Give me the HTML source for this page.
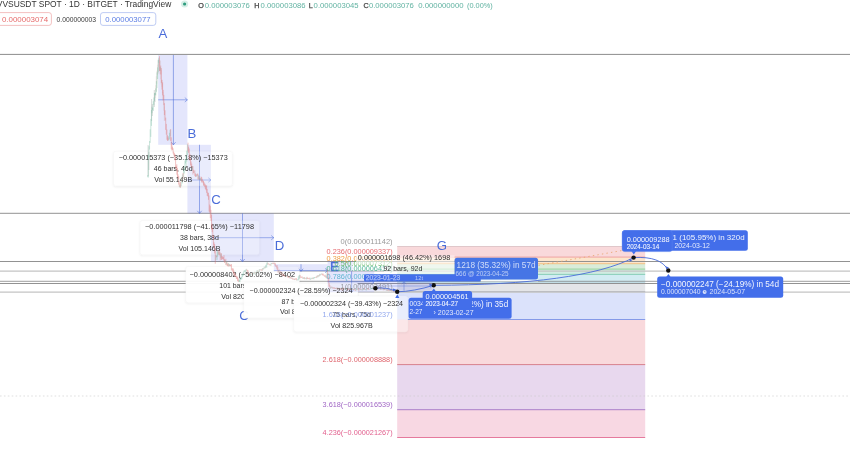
<!DOCTYPE html>
<html lang="en"><head><meta charset="utf-8"><title>VVSUSDT SPOT · 1D · BITGET · TradingView</title>
<style>
html,body{margin:0;padding:0;background:#fff;overflow:hidden}
svg{display:block;filter:blur(0.45px);font-family:"Liberation Sans",sans-serif}
</style></head><body>
<svg width="850" height="474" viewBox="0 0 850 474">
<defs><filter id="sh" x="-10%" y="-20%" width="120%" height="150%"><feDropShadow dx="0" dy="0.8" stdDeviation="1.2" flood-color="#000" flood-opacity="0.09"/></filter></defs>
<rect width="850" height="474" fill="#fff"/>
<g id="fib">
<rect x="397.2" y="246.5" width="248.0" height="10.6" fill="#f9d9db"/>
<rect x="397.2" y="257.1" width="248.0" height="6.6" fill="#fce5cc"/>
<rect x="397.2" y="263.7" width="248.0" height="5.4" fill="#d9ecd9"/>
<rect x="397.2" y="269.1" width="248.0" height="5.3" fill="#d0ece1"/>
<rect x="397.2" y="274.4" width="248.0" height="7.5" fill="#d2ecf2"/>
<rect x="397.2" y="281.9" width="248.0" height="9.7" fill="#e4e5e8"/>
<rect x="397.2" y="291.6" width="248.0" height="27.9" fill="#dbe2fb"/>
<rect x="397.2" y="319.5" width="248.0" height="45.1" fill="#f9d9dc"/>
<rect x="397.2" y="364.6" width="248.0" height="45.1" fill="#e8d8ee"/>
<rect x="397.2" y="409.7" width="248.0" height="27.8" fill="#f8d8e3"/>
<line x1="397.2" y1="246.5" x2="645.2" y2="246.5" stroke="#dcc3c6" stroke-width="0.9"/>
<line x1="397.2" y1="257.1" x2="645.2" y2="257.1" stroke="#ee9a9c" stroke-width="0.9"/>
<line x1="397.2" y1="263.7" x2="645.2" y2="263.7" stroke="#f3bb78" stroke-width="0.9"/>
<line x1="397.2" y1="269.1" x2="645.2" y2="269.1" stroke="#8fcf93" stroke-width="0.9"/>
<line x1="397.2" y1="274.4" x2="645.2" y2="274.4" stroke="#7fcbb0" stroke-width="0.9"/>
<line x1="397.2" y1="281.9" x2="645.2" y2="281.9" stroke="#86cfe0" stroke-width="0.9"/>
<line x1="397.2" y1="291.6" x2="645.2" y2="291.6" stroke="#a9abb2" stroke-width="0.9"/>
<line x1="397.2" y1="319.5" x2="645.2" y2="319.5" stroke="#7891e8" stroke-width="0.9"/>
<line x1="397.2" y1="364.6" x2="645.2" y2="364.6" stroke="#d47481" stroke-width="0.9"/>
<line x1="397.2" y1="409.7" x2="645.2" y2="409.7" stroke="#a274c4" stroke-width="0.9"/>
<line x1="397.2" y1="437.5" x2="645.2" y2="437.5" stroke="#e26d93" stroke-width="0.9"/>
</g>
<g id="hlines">
<line x1="0" y1="54.4" x2="850" y2="54.4" stroke="#8c8c8c" stroke-width="1.0"/>
<line x1="0" y1="213.3" x2="850" y2="213.3" stroke="#8c8c8c" stroke-width="0.95"/>
<line x1="0" y1="261.5" x2="850" y2="261.5" stroke="#8c8c8c" stroke-width="0.95"/>
<line x1="0" y1="271.2" x2="850" y2="271.2" stroke="#c4c4c4" stroke-width="1.2"/>
<line x1="0" y1="281.3" x2="850" y2="281.3" stroke="#9a9a9a" stroke-width="0.95"/>
<line x1="0" y1="283.5" x2="850" y2="283.5" stroke="#8c8c8c" stroke-width="0.95"/>
<line x1="0" y1="292.2" x2="850" y2="292.2" stroke="#c4c4c4" stroke-width="1.2"/>
<line x1="0" y1="396" x2="850" y2="396" stroke="#c9c9c9" stroke-width="0.6" stroke-dasharray="1.6 2.3"/>
</g>
<g id="letters">
<text x="162.8" y="37.6" font-size="13.2" fill="#4a6cd9" text-anchor="middle">A</text>
<text x="192" y="137.7" font-size="13.2" fill="#4a6cd9" text-anchor="middle">B</text>
<text x="216" y="204.4" font-size="13.2" fill="#4a6cd9" text-anchor="middle">C</text>
<text x="279.6" y="249.8" font-size="13.2" fill="#4a6cd9" text-anchor="middle">D</text>
<text x="442" y="249.9" font-size="13.2" fill="#4a6cd9" text-anchor="middle">G</text>
<text x="244" y="319.6" font-size="13.2" fill="#4a6cd9" text-anchor="middle">C</text>
</g>
<g id="tipboxes">
<rect x="113.5" y="151.3" width="118.8" height="34.7" rx="2.5" fill="#fff" fill-opacity="0.93" stroke="#dedede" stroke-opacity="0.28" stroke-width="0.6" filter="url(#sh)"/>
<rect x="140.0" y="220.5" width="119.6" height="34.3" rx="2.5" fill="#fff" fill-opacity="0.93" stroke="#dedede" stroke-opacity="0.28" stroke-width="0.6" filter="url(#sh)"/>
<rect x="185.8" y="266.4" width="113.6" height="36.4" rx="2.5" fill="#fff" fill-opacity="0.93" stroke="#dedede" stroke-opacity="0.28" stroke-width="0.6" filter="url(#sh)"/>
<rect x="243.8" y="282.4" width="114.2" height="35.8" rx="2.5" fill="#fff" fill-opacity="0.93" stroke="#dedede" stroke-opacity="0.28" stroke-width="0.6" filter="url(#sh)"/>
<rect x="293.8" y="296.0" width="113.9" height="35.8" rx="2.5" fill="#fff" fill-opacity="0.93" stroke="#dedede" stroke-opacity="0.28" stroke-width="0.6" filter="url(#sh)"/>
</g>
<g id="mrects">
<rect x="158.2" y="55" width="29.2" height="89.8" fill="rgba(98,110,240,0.172)"/>
<path d="M173.4 55V144.8M171.20000000000002 142.20000000000002L173.4 144.8L175.6 142.20000000000002" fill="none" stroke="#4a6cd9" stroke-width="0.75" opacity="0.72"/>
<path d="M158.2 99.8H187.4M184.8 97.6L187.4 99.8L184.8 102.0" fill="none" stroke="#4a6cd9" stroke-width="0.75" opacity="0.68"/>
<rect x="187.4" y="144.8" width="23.5" height="68.6" fill="rgba(98,110,240,0.172)"/>
<path d="M199.5 144.8V213.4M197.3 210.8L199.5 213.4L201.7 210.8" fill="none" stroke="#4a6cd9" stroke-width="0.75" opacity="0.72"/>
<path d="M187.4 180H210.9M208.3 177.8L210.9 180L208.3 182.2" fill="none" stroke="#4a6cd9" stroke-width="0.75" opacity="0.68"/>
<rect x="210.9" y="213.4" width="62.9" height="48.2" fill="rgba(98,110,240,0.172)"/>
<path d="M242.5 213.4V261.6M240.3 259.0L242.5 261.6L244.7 259.0" fill="none" stroke="#4a6cd9" stroke-width="0.75" opacity="0.72"/>
<path d="M210.9 237.7H273.8M271.2 235.5L273.8 237.7L271.2 239.89999999999998" fill="none" stroke="#4a6cd9" stroke-width="0.75" opacity="0.68"/>
<rect x="273.8" y="264.2" width="53.8" height="7.1" fill="rgba(98,110,240,0.172)"/>
<path d="M301 264.2V271.3M298.8 268.7L301 271.3L303.2 268.7" fill="none" stroke="#4a6cd9" stroke-width="0.75" opacity="0.72"/>
<path d="M273.8 270.6H327.6M325.0 268.40000000000003L327.6 270.6L325.0 272.8" fill="none" stroke="#4a6cd9" stroke-width="0.75" opacity="0.68"/>
<rect x="327.6" y="261" width="25" height="10.4" fill="rgba(98,110,240,0.172)"/>
<rect x="327.6" y="271.3" width="46.6" height="20.9" fill="rgba(98,110,240,0.172)"/>
<path d="M351.6 271.3V292.2M349.40000000000003 289.59999999999997L351.6 292.2L353.8 289.59999999999997" fill="none" stroke="#4a6cd9" stroke-width="0.75" opacity="0.72"/>
<path d="M327.6 281.8H374.2M371.59999999999997 279.6L374.2 281.8L371.59999999999997 284.0" fill="none" stroke="#4a6cd9" stroke-width="0.75" opacity="0.68"/>
<rect x="375.5" y="281.6" width="57" height="9" fill="rgba(98,110,240,0.172)"/>
<path d="M404 290.6V281.6M401.8 284.2L404 281.6L406.2 284.2" fill="none" stroke="#4a6cd9" stroke-width="0.75" opacity="0.6"/>
<path d="M375.5 286H432.5M429.9 283.8L432.5 286L429.9 288.2" fill="none" stroke="#4a6cd9" stroke-width="0.75" opacity="0.5"/>
</g>
<text x="334.3" y="271.1" font-size="13.2" fill="#4a6cd9" text-anchor="middle" stroke="#4a6cd9" stroke-width="0.35">E</text>
<g id="tipveil" fill="#fff" fill-opacity="0.24">
<rect x="113.5" y="151.3" width="118.8" height="34.7" rx="2.5"/>
<rect x="140.0" y="220.5" width="119.6" height="34.3" rx="2.5"/>
<rect x="185.8" y="266.4" width="113.6" height="36.4" rx="2.5"/>
<rect x="243.8" y="282.4" width="114.2" height="35.8" rx="2.5"/>
<rect x="293.8" y="296.0" width="113.9" height="35.8" rx="2.5"/>
</g>
<rect x="397.2" y="296" width="10.5" height="23.5" fill="#d9e0fa" opacity="0.55"/><rect x="397.2" y="319.5" width="10.5" height="12.3" fill="#f8d6d9" opacity="0.55"/>
<g id="tiptext">
<text x="173.2" y="159.95" font-size="7.2" fill="#2e2e2e" text-anchor="middle" textLength="109" lengthAdjust="spacingAndGlyphs">−0.000015373 (−35.18%) −15373</text>
<text x="173.2" y="171.15" font-size="7.2" fill="#2e2e2e" text-anchor="middle" textLength="38.8" lengthAdjust="spacingAndGlyphs">46 bars, 46d</text>
<text x="173.2" y="182.15" font-size="7.2" fill="#2e2e2e" text-anchor="middle" textLength="38" lengthAdjust="spacingAndGlyphs">Vol 55.149B</text>
<text x="199.5" y="229.25" font-size="7.2" fill="#2e2e2e" text-anchor="middle" textLength="109" lengthAdjust="spacingAndGlyphs">−0.000011798 (−41.65%) −11798</text>
<text x="199.5" y="240.15" font-size="7.2" fill="#2e2e2e" text-anchor="middle" textLength="38.8" lengthAdjust="spacingAndGlyphs">38 bars, 38d</text>
<text x="199.5" y="251.15" font-size="7.2" fill="#2e2e2e" text-anchor="middle" textLength="42" lengthAdjust="spacingAndGlyphs">Vol 105.146B</text>
<clipPath id="c3"><polygon points="185,266 299.4,266 299.4,282.4 243.8,282.4 243.8,303 185,303"/></clipPath><g clip-path="url(#c3)">
<text x="242.3" y="277.15" font-size="7.2" fill="#2e2e2e" text-anchor="middle" textLength="105.5" lengthAdjust="spacingAndGlyphs">−0.000008402 (−50.02%) −8402</text>
<text x="242.3" y="288.15" font-size="7.2" fill="#2e2e2e" text-anchor="middle" textLength="46" lengthAdjust="spacingAndGlyphs">101 bars, 101d</text>
<text x="242.3" y="298.95" font-size="7.2" fill="#2e2e2e" text-anchor="middle" textLength="42" lengthAdjust="spacingAndGlyphs">Vol 820.415B</text>
</g>
<clipPath id="c4"><polygon points="243.8,282 358,282 358,296 293.8,296 293.8,318.6 243.8,318.6"/></clipPath><g clip-path="url(#c4)">
<text x="301.0" y="292.55" font-size="7.2" fill="#2e2e2e" text-anchor="middle" textLength="103" lengthAdjust="spacingAndGlyphs">−0.000002324 (−28.59%) −2324</text>
<text x="301.0" y="303.55" font-size="7.2" fill="#2e2e2e" text-anchor="middle" textLength="38.8" lengthAdjust="spacingAndGlyphs">87 bars, 87d</text>
<text x="301.0" y="314.25" font-size="7.2" fill="#2e2e2e" text-anchor="middle" textLength="42" lengthAdjust="spacingAndGlyphs">Vol 823.172B</text>
</g>
<text x="351.6" y="305.85" font-size="7.2" fill="#2e2e2e" text-anchor="middle" textLength="103" lengthAdjust="spacingAndGlyphs">−0.000002324 (−39.43%) −2324</text>
<text x="351.6" y="316.85" font-size="7.2" fill="#2e2e2e" text-anchor="middle" textLength="38.8" lengthAdjust="spacingAndGlyphs">75 bars, 75d</text>
<text x="351.6" y="327.95" font-size="7.2" fill="#2e2e2e" text-anchor="middle" textLength="42" lengthAdjust="spacingAndGlyphs">Vol 825.967B</text>
</g>
<g id="fiblabels">
<text x="392.6" y="243.8" font-size="7.4" fill="#9a9a9a" text-anchor="end" textLength="52" lengthAdjust="spacingAndGlyphs">0(0.000011142)</text>
<text x="392.6" y="253.5" font-size="7.4" fill="#e56a70" text-anchor="end" textLength="66" lengthAdjust="spacingAndGlyphs">0.236(0.000009337)</text>
<text x="392.6" y="260.9" font-size="7.4" fill="#ee9c42" text-anchor="end" textLength="66" lengthAdjust="spacingAndGlyphs">0.382(0.000008219)</text>
<text x="392.6" y="265.5" font-size="7.4" fill="#64b96a" text-anchor="end" textLength="58" lengthAdjust="spacingAndGlyphs">0.5(0.000007312)</text>
<text x="392.6" y="271.1" font-size="7.4" fill="#52b697" text-anchor="end" textLength="66" lengthAdjust="spacingAndGlyphs">0.618(0.000006413)</text>
<text x="392.6" y="278.8" font-size="7.4" fill="#5fb5d1" text-anchor="end" textLength="66" lengthAdjust="spacingAndGlyphs">0.786(0.000005127)</text>
<text x="392.6" y="289.2" font-size="7.4" fill="#9b9da5" text-anchor="end" textLength="52" lengthAdjust="spacingAndGlyphs">1(0.000003491)</text>
<text x="392.6" y="317.1" font-size="7.4" fill="#7d97ea" text-anchor="end" textLength="70" lengthAdjust="spacingAndGlyphs" opacity="0.85">1.618(−0.000001237)</text>
<text x="392.6" y="362.2" font-size="7.4" fill="#df666e" text-anchor="end" textLength="70" lengthAdjust="spacingAndGlyphs">2.618(−0.000008888)</text>
<text x="392.6" y="407.3" font-size="7.4" fill="#a066c4" text-anchor="end" textLength="70" lengthAdjust="spacingAndGlyphs">3.618(−0.000016539)</text>
<text x="392.6" y="435.1" font-size="7.4" fill="#e2608e" text-anchor="end" textLength="70" lengthAdjust="spacingAndGlyphs">4.236(−0.000021267)</text>
</g>
<path d="M356 255.4H454.6V274.2H384V264.4H356Z" fill="#fff" fill-opacity="0.58"/>
<text x="357.8" y="260.1" font-size="7.2" fill="#2e2e2e" textLength="92.5" lengthAdjust="spacingAndGlyphs">0.000001698 (46.42%) 1698</text>
<text x="383.4" y="270.7" font-size="7.2" fill="#2e2e2e" textLength="39" lengthAdjust="spacingAndGlyphs">92 bars, 92d</text>
<g id="candles" fill="none" stroke-linecap="butt">
<path d="M155.60 85.3V97.9M156.22 76.2V91.0M156.84 70.7V83.8M157.46 64.6V75.2M158.08 59.5V73.7M158.70 59.5V66.8M159.32 62.1V74.3M159.94 60.4V70.8M160.56 60.6V79.2M161.18 70.1V84.4M161.80 79.9V86.9M162.42 83.5V93.1M163.04 92.1V100.9M163.66 101.3V110.7M164.28 106.4V121.0" stroke="#c99a94" stroke-width="0.62" opacity="0.33"/>
<path d="M148.1 145V176M148.9 152V170M151.6 99V121M152.3 104V116M154.3 90V107M155 93V102" stroke="#8f9a96" stroke-width="0.7" opacity="0.5"/>
<path d="M147.70 175.2V177.2M148.32 154.9V177.5M148.94 146.2V158.1M149.56 141.0V149.6M150.18 129.3V142.9M150.80 118.9V136.9M151.42 110.0V125.9M152.04 106.7V113.1M152.66 107.9V109.9M153.28 101.2V111.0M153.90 97.5V105.0M154.52 93.2V100.8M155.14 92.7V95.0M155.76 88.4V95.5M156.38 81.2V92.1M157.00 72.4V88.1M157.62 67.4V79.0M158.24 60.1V72.3M158.86 57.8V62.7M160.10 67.1V70.7M168.78 136.0V140.6M169.40 132.8V139.4M170.02 129.8V136.0M179.94 184.6V187.8M181.18 177.8V186.3M182.42 174.4V183.4M183.66 169.4V177.4M184.28 166.3V173.4M184.90 160.6V169.7M185.52 159.6V163.5M186.14 156.1V165.9M186.76 150.7V161.7M187.38 144.3V155.0M192.34 166.5V169.7M194.20 171.5V172.4M196.68 174.1V176.8M198.54 175.2V179.3M199.78 178.2V179.9M200.40 177.9V180.3M215.90 255.1V260.3M217.14 250.8V259.9M217.76 251.5V256.6M219.00 251.7V255.0M220.86 253.5V258.2M225.20 260.1V262.0M226.44 261.3V264.5M228.30 263.0V266.0M229.54 264.1V266.1M238.84 279.8V281.7M239.46 279.7V282.0" stroke="#6bb39b" stroke-width="0.62" opacity="0.58"/>
<path d="M159.48 56.1V71.1M160.72 65.6V74.4M161.34 68.1V82.9M161.96 79.8V89.6M162.58 82.3V95.4M163.20 89.9V100.2M163.82 94.9V105.2M164.44 103.2V115.1M165.06 110.3V120.5M165.68 117.6V129.9M166.30 123.9V134.6M166.92 129.5V139.8M167.54 135.3V141.0M168.16 137.4V140.2M170.64 129.1V140.9M171.26 137.3V149.3M171.88 142.8V150.5M172.50 146.7V149.8M173.12 148.3V153.5M173.74 151.7V155.3M174.36 153.1V157.1M174.98 154.1V160.3M175.60 156.7V168.3M176.22 165.7V169.3M176.84 164.2V174.7M177.46 168.2V177.1M178.08 174.3V178.8M178.70 176.1V184.6M179.32 182.4V186.9M180.56 182.0V187.6M181.80 178.4V181.7M183.04 172.9V178.7M188.00 142.7V151.5M188.62 146.7V153.0M189.24 148.5V159.2M189.86 153.8V160.8M190.48 158.3V165.3M191.10 161.4V166.6M191.72 163.6V168.1M192.96 166.2V174.6M193.58 169.8V173.0M194.82 170.3V175.9M195.44 173.4V177.0M196.06 174.5V176.3M197.30 173.5V175.8M197.92 173.8V179.6M199.16 176.3V180.0M201.02 176.6V180.7M201.64 177.1V182.5M202.26 178.8V181.7M202.88 180.4V183.2M203.50 180.9V185.5M204.12 182.3V185.8M204.74 183.5V187.2M205.36 184.5V189.2M205.98 185.4V190.2M206.60 185.4V192.9M207.22 188.9V195.9M207.84 192.4V196.4M208.46 192.9V199.8M209.08 195.5V211.6M209.70 204.6V212.6M210.32 205.9V218.1M210.94 209.9V220.9M211.56 214.7V229.5M212.18 223.7V232.1M212.80 228.4V237.8M213.42 235.3V245.6M214.04 242.3V248.2M214.66 244.0V253.4M215.28 249.1V263.8M216.52 255.6V257.3M218.38 250.1V254.6M219.62 250.2V255.4M220.24 252.5V260.3M221.48 253.3V260.0M222.10 256.0V259.3M222.72 256.7V259.1M223.34 257.2V259.7M223.96 255.1V261.5M224.58 259.1V263.0M225.82 258.8V265.1M227.06 262.3V265.8M227.68 263.7V266.3M228.92 263.7V266.9M230.16 264.8V266.0M230.78 264.5V266.5M231.40 264.1V270.5M232.02 268.6V269.3M232.64 268.4V271.4M233.26 268.6V273.1M233.88 270.5V275.6M234.50 272.6V274.5M235.12 273.1V277.0M235.74 274.6V276.8M236.36 276.1V278.7M236.98 277.3V279.0M237.60 276.5V281.0M238.22 278.5V282.1" stroke="#e06f6f" stroke-width="0.62" opacity="0.66"/>
<path d="M240.08 278.2V282.2M240.70 277.2V279.9M241.32 276.9V279.4M241.94 273.7V279.3M242.56 274.2V277.0M243.18 272.4V275.9M243.80 270.7V274.8M244.42 270.3V271.8M245.04 270.3V271.8M245.66 269.7V272.1M246.28 268.8V270.7M249.38 274.0V276.4M250.00 274.3V275.0M250.62 273.8V275.5M251.86 273.6V274.7M253.10 273.1V274.8M253.72 272.1V274.0M254.96 271.6V274.7M255.58 272.0V272.9M256.82 270.5V273.8M257.44 270.4V271.7M258.68 270.9V271.8M259.30 269.0V272.3M260.54 269.4V270.2M262.40 268.0V270.7M263.64 267.8V269.4M264.26 266.4V268.7M265.50 265.5V268.3M266.12 264.6V267.2M266.74 262.6V267.9M267.36 262.1V264.8M269.84 264.4V265.4M271.08 262.9V265.7M271.70 263.1V264.0M273.56 262.8V263.8M278.52 270.1V272.4M279.76 271.6V273.2M281.00 272.6V274.4M282.24 273.8V274.7M285.96 275.6V276.8M286.58 275.8V276.7M289.68 276.6V278.4M292.16 277.8V278.8M294.64 278.7V280.1M297.12 279.7V280.7M297.74 278.9V280.1M298.36 276.3V280.5M298.98 275.2V279.4M299.60 274.8V278.6M303.32 277.5V278.9M303.94 277.0V278.8M305.80 277.8V278.9M306.42 277.5V279.5M308.90 278.1V278.7M310.76 277.7V280.0M311.38 278.2V279.0M312.00 277.7V278.6M313.24 277.6V278.9M313.86 277.0V279.2M314.48 277.0V278.1M315.10 277.0V277.4M316.96 275.6V278.1M318.20 275.1V277.3M319.44 273.8V276.3M320.68 273.9V275.4M321.30 273.4V274.6M325.02 275.7V276.9M326.88 267.1V278.7M330.60 286.6V288.7M331.22 287.0V287.9M332.46 287.3V288.4M335.56 288.0V289.0M337.42 287.5V289.6M338.66 287.9V289.6M339.90 287.9V289.3M341.76 287.3V290.1M343.00 287.7V290.0M344.24 288.6V289.3M345.48 288.5V289.8M346.10 288.2V289.7M346.72 287.7V289.0M347.96 288.8V290.0M351.06 289.3V289.9M351.68 289.3V289.8M352.92 288.7V290.0M354.16 288.8V289.7M356.02 288.6V290.7M356.64 288.7V290.1M357.26 288.6V289.9M359.74 289.1V290.2M360.36 289.0V290.1M362.22 289.1V290.5M362.84 288.9V290.3M363.46 288.3V289.9M365.32 289.0V290.0M365.94 289.3V290.4M366.56 288.3V290.4M367.80 288.5V289.4M369.66 289.1V289.6M370.28 288.6V289.6M370.90 288.2V289.3M371.52 288.0V289.1M372.14 287.6V288.8M372.76 288.0V289.0M374.00 288.0V289.7M375.24 287.6V289.0M375.86 287.5V288.4M377.10 287.6V288.6M378.34 288.0V289.0M379.58 288.4V289.0M380.82 287.6V290.0M382.06 288.7V289.3M382.68 288.3V289.6M383.92 288.6V290.0M385.16 288.9V290.1M386.40 288.8V290.7M387.64 289.5V290.9M389.50 289.7V291.0M390.74 289.8V290.8M391.98 289.3V291.5M394.46 290.4V291.9M396.32 290.9V292.0" stroke="#6bb39b" stroke-width="0.62" opacity="0.5"/>
<path d="M246.90 269.3V271.3M247.52 270.1V271.8M248.14 270.4V275.7M248.76 273.1V276.1M251.24 273.6V274.3M252.48 273.3V274.5M254.34 272.2V273.6M256.20 272.1V273.1M258.06 270.6V271.9M259.92 269.5V270.6M261.16 269.3V270.2M261.78 269.2V271.1M263.02 268.3V269.5M264.88 267.0V267.8M267.98 262.9V264.5M268.60 263.5V264.3M269.22 263.9V265.3M270.46 264.4V265.5M272.32 262.9V263.8M272.94 262.6V264.2M274.18 262.7V264.1M274.80 262.7V265.3M275.42 263.3V266.4M276.04 265.1V266.8M276.66 265.6V268.6M277.28 265.1V270.0M277.90 267.1V272.8M279.14 269.4V273.8M280.38 270.9V274.7M281.62 271.8V275.8M282.86 273.2V275.8M283.48 274.0V276.1M284.10 274.9V275.5M284.72 275.1V277.1M285.34 275.9V276.4M287.20 275.5V277.3M287.82 276.8V277.3M288.44 276.4V277.7M289.06 276.7V278.1M290.30 277.2V278.2M290.92 277.1V278.7M291.54 277.7V278.6M292.78 277.7V279.9M293.40 278.6V279.3M294.02 278.8V280.0M295.26 278.0V279.7M295.88 278.8V279.7M296.50 278.1V280.3M300.22 275.0V278.1M300.84 276.5V277.5M301.46 276.9V277.8M302.08 276.2V277.9M302.70 277.4V278.8M304.56 277.1V279.2M305.18 278.5V279.2M307.04 276.8V279.0M307.66 277.6V279.1M308.28 277.9V279.2M309.52 277.6V279.4M310.14 278.7V279.4M312.62 277.7V279.1M315.72 276.9V277.9M316.34 276.3V277.7M317.58 275.4V276.8M318.82 275.1V276.5M320.06 274.4V275.6M321.92 273.6V274.7M322.54 273.6V275.4M323.16 273.6V275.3M323.78 274.4V275.9M324.40 275.1V276.7M325.64 274.7V277.5M326.26 276.4V278.1M327.50 269.2V275.0M328.12 273.0V281.4M328.74 277.3V286.7M329.36 283.2V287.2M329.98 285.1V289.0M331.84 286.4V288.3M333.08 287.4V288.8M333.70 287.3V288.4M334.32 287.2V289.1M334.94 288.0V288.8M336.18 287.3V288.9M336.80 288.0V289.1M338.04 287.8V290.0M339.28 288.1V289.3M340.52 288.1V289.8M341.14 288.4V290.2M342.38 287.5V290.7M343.62 287.6V289.9M344.86 288.4V289.4M347.34 287.9V290.3M348.58 288.6V289.8M349.20 289.2V289.9M349.82 289.1V290.0M350.44 289.1V289.9M352.30 289.3V290.0M353.54 289.0V290.0M354.78 288.7V290.4M355.40 289.5V290.8M357.88 288.1V289.4M358.50 288.8V290.5M359.12 289.6V290.4M360.98 288.5V289.9M361.60 289.4V290.2M364.08 288.2V289.5M364.70 288.7V290.0M367.18 288.3V289.6M368.42 288.1V289.8M369.04 289.0V289.7M373.38 287.5V289.4M374.62 287.8V289.0M376.48 287.7V288.8M377.72 287.2V288.9M378.96 287.7V289.2M380.20 288.0V290.0M381.44 287.5V289.6M383.30 287.7V290.4M384.54 288.6V290.1M385.78 289.6V290.2M387.02 289.1V291.0M388.26 289.1V290.8M388.88 289.9V291.2M390.12 290.1V290.9M391.36 290.0V291.3M392.60 290.0V290.5M393.22 289.5V292.1M393.84 291.1V291.8M395.08 290.9V292.4M395.70 290.8V292.1M396.94 290.3V292.7" stroke="#e06f6f" stroke-width="0.62" opacity="0.52"/>
</g>
<g id="bluetips">
<rect x="480.8" y="279.6" width="57.2" height="1.8" fill="#fff" opacity="0.85"/>
<rect x="454.6" y="257.8" width="83.4" height="21.8" rx="2.5" fill="#4675e5"/>
<rect x="364" y="274.2" width="116.8" height="7.4" rx="1.5" fill="#436eea"/>
<text x="365.8" y="280.4" font-size="6.8" fill="#fff" textLength="34.4" lengthAdjust="spacingAndGlyphs" opacity="0.55" stroke="#fff" stroke-width="0.25">2023-01-23</text>
<text x="415" y="280.3" font-size="5.6" fill="#fff" textLength="8" lengthAdjust="spacingAndGlyphs" opacity="0.6">12t</text>
<text x="456.6" y="268.3" font-size="8.2" fill="#fff" textLength="79" lengthAdjust="spacingAndGlyphs" opacity="0.74">1218 (35.32%) in 57d</text>
<text x="455.6" y="275.9" font-size="6.5" fill="#fff" textLength="53" lengthAdjust="spacingAndGlyphs" opacity="0.62">666 @ 2023-04-25</text>
<rect x="408.6" y="297.7" width="103" height="21" rx="2.5" fill="#436eea"/>
<text x="409.4" y="305.6" font-size="7.0" fill="#fff" textLength="15" lengthAdjust="spacingAndGlyphs" opacity="0.9">0034</text>
<text x="409.4" y="313.6" font-size="6.4" fill="#fff" textLength="13" lengthAdjust="spacingAndGlyphs" opacity="0.85">2-27</text>
<text x="508.2" y="307.4" font-size="8.2" fill="#fff" text-anchor="end" textLength="39" lengthAdjust="spacingAndGlyphs" opacity="0.93">2%) in 35d</text>
<text x="433.6" y="315.4" font-size="6.8" fill="#fff" textLength="40" lengthAdjust="spacingAndGlyphs" opacity="0.85">› 2023-02-27</text>
<path d="M395.2 297.9L397.3 294.6L399.4 297.9Z" fill="#436eea"/>
<path d="M431.6 291.4L433.8 288.6L436 291.4Z" fill="#436eea"/>
<rect x="422.7" y="291" width="49.4" height="17.4" rx="2.5" fill="#436eea"/>
<text x="425.6" y="299.3" font-size="7.5" fill="#fff" textLength="43" lengthAdjust="spacingAndGlyphs" opacity="0.95">0.000004561</text>
<text x="425.6" y="306.2" font-size="6.5" fill="#fff" textLength="32.4" lengthAdjust="spacingAndGlyphs" opacity="0.92" stroke="#fff" stroke-width="0.1">2023-04-27</text>
<rect x="622.2" y="230.2" width="125.6" height="20.6" rx="2.5" fill="#436eea"/>
<text x="672.6" y="239.9" font-size="8.1" fill="#fff" textLength="72" lengthAdjust="spacingAndGlyphs" opacity="0.93">1 (105.95%) in 320d</text>
<text x="674.4" y="247.5" font-size="6.8" fill="#fff" textLength="35.5" lengthAdjust="spacingAndGlyphs" opacity="0.85">2024-03-12</text>
<path d="M631.4 251L633.8 254.4L636.2 251Z" fill="#436eea"/>
<rect x="622.2" y="230.6" width="50" height="21" rx="2.5" fill="#436eea" stroke="#5a83ee" stroke-width="0.5"/>
<text x="626.7" y="241.9" font-size="7.5" fill="#fff" textLength="43" lengthAdjust="spacingAndGlyphs" opacity="0.95">0.000009288</text>
<text x="626.7" y="248.8" font-size="6.5" fill="#fff" textLength="32.6" lengthAdjust="spacingAndGlyphs" opacity="0.92" stroke="#fff" stroke-width="0.1">2024-03-14</text>
<path d="M666.2 277L668.4 274L670.6 277Z" fill="#436eea"/>
<rect x="657.2" y="276.4" width="126" height="21.3" rx="2.5" fill="#436eea"/>
<text x="661" y="286.7" font-size="8.2" fill="#fff" textLength="118" lengthAdjust="spacingAndGlyphs" opacity="0.93">−0.000002247 (−24.19%) in 54d</text>
<text x="661" y="294.4" font-size="6.8" fill="#fff" textLength="39.5" lengthAdjust="spacingAndGlyphs" opacity="0.8">0.000007040</text>
<circle cx="704.6" cy="292" r="2" fill="#fff" opacity="0.8"/><path d="M704.6 290.8V292H705.6" stroke="#3f6fe6" stroke-width="0.6" fill="none"/>
<text x="709.6" y="294.4" font-size="6.8" fill="#fff" textLength="35.4" lengthAdjust="spacingAndGlyphs" opacity="0.8">2024-05-07</text>
</g>
<g id="curves" fill="none">
<path d="M538.5 265.4L621.5 250.6" stroke="#e9a36a" stroke-width="0.9" stroke-dasharray="1.4 3.2" opacity="0.9"/>
<path d="M375.4 288.3Q386 286.6 397.2 291.8" stroke="#4a6cd9" stroke-width="0.9"/>
<path d="M397.2 291.8Q414 291.4 433.7 285.3" stroke="#4a6cd9" stroke-width="0.9"/>
<path d="M433.7 285.3C530 285 598 276 633.6 257.6" stroke="#4a6cd9" stroke-width="0.9"/>
<path d="M633.6 257.6C652 256.6 663 260.5 668.3 270.5" stroke="#4a6cd9" stroke-width="0.9"/>
</g>
<circle cx="375.4" cy="288.3" r="2.2" fill="#111"/>
<circle cx="397.2" cy="291.8" r="2.2" fill="#111"/>
<circle cx="433.7" cy="285.3" r="2.2" fill="#111"/>
<circle cx="633.6" cy="257.6" r="2.2" fill="#111"/>
<circle cx="668.3" cy="270.5" r="2.2" fill="#111"/>
<path d="M392.8 288.4L396.2 289.6L393.4 291.4Z" fill="#4a6cd9"/>
<path d="M429.2 283.6L432.6 284.8L429.8 286.6Z" fill="#4a6cd9"/>
<path d="M629.2 258.8L632.6 260.0L629.8 261.8Z" fill="#4a6cd9"/>
<path d="M665.6 266.2L669.0 267.4L666.2 269.2Z" fill="#4a6cd9"/>
<g id="header">
<text x="-3.2" y="7.1" font-size="8.8" fill="#333" textLength="174.4" lengthAdjust="spacingAndGlyphs">VVSUSDT SPOT · 1D · BITGET · TradingView</text>
<circle cx="184.6" cy="4" r="3.6" fill="#d6efe7"/><circle cx="184.6" cy="4" r="1.6" fill="#2f9c7e"/>
<text x="198.2" y="7.6" font-size="7.2" fill="#444" stroke="#444" stroke-width="0.25">O</text>
<text x="204.8" y="7.6" font-size="7.4" fill="#62b3a2" textLength="45" lengthAdjust="spacingAndGlyphs">0.000003076</text>
<text x="254.2" y="7.6" font-size="7.2" fill="#444" stroke="#444" stroke-width="0.25">H</text>
<text x="260.6" y="7.6" font-size="7.4" fill="#62b3a2" textLength="45" lengthAdjust="spacingAndGlyphs">0.000003086</text>
<text x="308.8" y="7.6" font-size="7.2" fill="#444" stroke="#444" stroke-width="0.25">L</text>
<text x="313.6" y="7.6" font-size="7.4" fill="#62b3a2" textLength="45" lengthAdjust="spacingAndGlyphs">0.000003045</text>
<text x="363.4" y="7.6" font-size="7.2" fill="#444" stroke="#444" stroke-width="0.25">C</text>
<text x="368.9" y="7.6" font-size="7.4" fill="#62b3a2" textLength="45" lengthAdjust="spacingAndGlyphs">0.000003076</text>
<text x="418.2" y="7.6" font-size="7.4" fill="#62b3a2" textLength="45.4" lengthAdjust="spacingAndGlyphs">0.000000000</text>
<text x="467" y="7.6" font-size="7.4" fill="#62b3a2" textLength="25.8" lengthAdjust="spacingAndGlyphs">(0.00%)</text>
<rect x="-3" y="12.6" width="54.4" height="12.8" rx="2.5" fill="#fff" stroke="#f0b0b0" stroke-width="0.8"/>
<text x="1.9" y="21.9" font-size="7.6" fill="#e66b6b" textLength="46.3" lengthAdjust="spacingAndGlyphs">0.000003074</text>
<text x="56.5" y="21.6" font-size="6.5" fill="#3a3a3a" textLength="39.5" lengthAdjust="spacingAndGlyphs">0.000000003</text>
<rect x="100.5" y="12.6" width="55.3" height="12.8" rx="2.5" fill="#fff" stroke="#aebff0" stroke-width="0.8"/>
<text x="105.2" y="21.9" font-size="7.6" fill="#5b7de4" textLength="45.4" lengthAdjust="spacingAndGlyphs">0.000003077</text>
</g>
</svg>
</body></html>
